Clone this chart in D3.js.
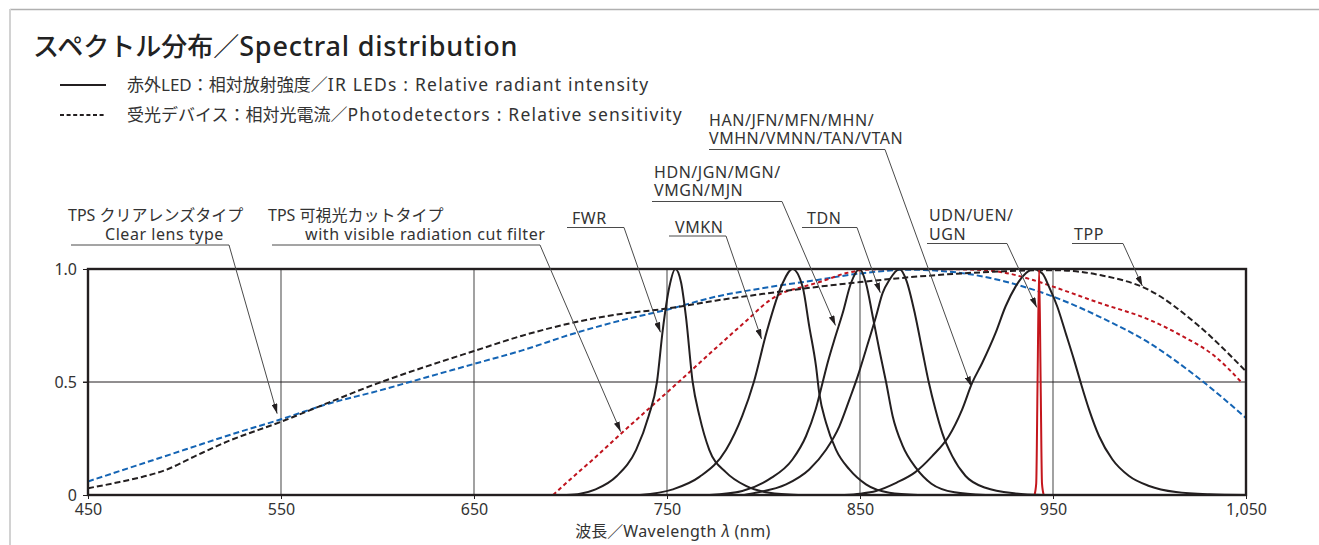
<!DOCTYPE html>
<html>
<head>
<meta charset="UTF-8">
<script src="https://d3js.org/d3.v7.min.js"></script>
<style>
  body { margin: 0; background: #fff; }
  text { font-family: "Noto Sans", "Noto Sans CJK JP", sans-serif; fill: #333; }
</style>
</head>
<body>
<svg id="canvas"></svg>
<script>
width = 1319;
height = 545;

// axes
xTicks = [450, 550, 650, 750, 850, 950, 1050];
xGrid = [550, 650, 750, 850, 950];
yTicks = [0, 0.5, 1];
yTickLabels = ["0", "0.5", "1.0"];

// IR LEDs : relative radiant intensity  [wavelength nm, value]
fwr = [[698,0],[705,0.006],[713,0.025],[724,0.084],[734,0.2],[740.5,0.35],[744.8,0.5],[747.8,0.73],[751.2,0.92],[754.3,1.0],[757.3,0.94],[759.8,0.79],[763.3,0.5],[766.8,0.35],[771.9,0.2],[780.6,0.1],[790.9,0.04],[803,0.01],[818,0]];
vmkn = [[736,0],[753,0.025],[766.8,0.08],[780.6,0.2],[789,0.35],[795,0.5],[801.6,0.72],[809.9,0.937],[815,1.0],[820.3,0.92],[823.7,0.746],[827.2,0.57],[828.9,0.45],[832.4,0.32],[837.6,0.2],[844.5,0.113],[853.1,0.047],[865.2,0.01],[880,0]];
hdn = [[772,0],[789,0.018],[803,0.07],[815,0.157],[822,0.26],[827,0.378],[830.7,0.5],[833.2,0.584],[837.2,0.7],[841,0.804],[845.3,0.937],[849.8,1.0],[853.1,0.937],[856.6,0.79],[860,0.643],[863.5,0.5],[866.9,0.35],[872,0.22],[879,0.12],[887,0.05],[899,0.012],[915,0]];
tdn = [[790,0],[796,0.01],[811.7,0.047],[823.7,0.113],[832.4,0.2],[839.3,0.304],[844.5,0.422],[848.8,0.525],[853.1,0.643],[858.3,0.79],[861.7,0.893],[865.2,0.951],[870.5,1.0],[874,0.95],[878.5,0.8],[882.2,0.643],[885.6,0.5],[889.1,0.378],[892.6,0.275],[897.8,0.172],[904.7,0.084],[915,0.032],[930.6,0.007],[945,0]];
han = [[842,0],[850,0.006],[858.3,0.018],[869,0.055],[878.5,0.1],[887.4,0.172],[896,0.26],[902.9,0.378],[908.1,0.496],[913.3,0.584],[920.2,0.716],[925.4,0.834],[930.6,0.922],[935.8,0.98],[939.5,1.0],[944.5,0.98],[947.9,0.922],[952.2,0.834],[956.6,0.716],[960.9,0.598],[964.4,0.496],[968.7,0.378],[973.9,0.26],[980.8,0.157],[989.4,0.084],[999.8,0.04],[1013.7,0.013],[1031,0.003],[1050,0]];
udn = [[940.4,0],[941.3,0.05],[942,0.5],[942.8,1.0],[943.6,0.5],[944.3,0.05],[945.2,0]];

// Photodetectors : relative sensitivity
tpsClear = [[450,0.06],[475,0.13],[500,0.2],[525,0.27],[550,0.335],[575,0.405],[600,0.46],[625,0.52],[650,0.58],[675,0.64],[700,0.71],[725,0.77],[750,0.82],[775,0.877],[800,0.916],[825,0.948],[850,0.98],[875,0.997],[900,0.985],[925,0.945],[950,0.878],[975,0.785],[1000,0.672],[1025,0.52],[1050,0.341]];
tpsCut = [[691,0],[700,0.07],[712,0.16],[726,0.27],[741,0.385],[756,0.5],[774,0.64],[791,0.77],[803,0.86],[810,0.895],[820,0.92],[830,0.945],[843,0.982],[855,0.998],[875,1.0],[905,0.998],[922,0.988],[939,0.953],[950,0.922],[974,0.85],[1000,0.775],[1017,0.703],[1034,0.613],[1047.5,0.5]];
tpp = [[450,0.03],[465,0.055],[478,0.08],[490,0.11],[505,0.17],[522,0.236],[550,0.324],[575,0.41],[600,0.494],[625,0.568],[650,0.637],[675,0.705],[700,0.76],[725,0.8],[750,0.825],[775,0.86],[800,0.89],[825,0.918],[850,0.942],[875,0.963],[900,0.979],[925,0.99],[950,0.995],[975,0.972],[1000,0.906],[1025,0.752],[1050,0.547]];

ledCurves = [fwr, vmkn, hdn, tdn, han];
detectors = [
  {data: tpsClear, color: "#1464b4", dash: "6,3"},
  {data: tpsCut,   color: "#c0141e", dash: "4,3"},
  {data: tpp,      color: "#231f20", dash: "6,3"}
];

// callout labels (text lines, text x, first baseline, leader y, leader start/end x, arrow target in data units)
notes = [
  {lines: ["TPS クリアレンズタイプ", "Clear lens type"], tx: [68, 105], ty: 221, ly: 245, x0: 71, x1: 229, at: [548, 0.36]},
  {lines: ["TPS 可視光カットタイプ", "with visible radiation cut filter"], tx: [268, 305], ty: 221, ly: 245, x0: 272, x1: 540, at: [726, 0.28]},
  {lines: ["FWR"], tx: [572], ty: 224, ly: 227.5, x0: 567, x1: 624, at: [746.6, 0.72]},
  {lines: ["VMKN"], tx: [675], ty: 232.5, ly: 236, x0: 669, x1: 726, at: [799, 0.69]},
  {lines: ["HDN/JGN/MGN/", "VMGN/MJN"], tx: [654, 654], ty: 177.5, ly: 201.5, x0: 652, x1: 782, at: [837.3, 0.75]},
  {lines: ["TDN"], tx: [807], ty: 224, ly: 227.5, x0: 802, x1: 857, at: [860.5, 0.895]},
  {lines: ["HAN/JFN/MFN/MHN/", "VMHN/VMNN/TAN/VTAN"], tx: [709, 709], ty: 125.5, ly: 149.5, x0: 709, x1: 885, at: [907.6, 0.48]},
  {lines: ["UDN/UEN/", "UGN"], tx: [929, 929], ty: 221, ly: 243.5, x0: 927, x1: 1007, at: [941.6, 0.83]},
  {lines: ["TPP"], tx: [1074], ty: 240, ly: 243.5, x0: 1072, x1: 1123, at: [996.3, 0.925]}
];

cjk = /[\u3000-\u9fff\uff00-\uffef]/;

svg = d3.select("#canvas").attr("width", width).attr("height", height);

// page frame
svg.append("line").attr("x1", 10).attr("x2", width).attr("y1", 9.5).attr("y2", 9.5)
  .attr("stroke", "#b0b0b0").attr("stroke-width", 1.5);
svg.append("line").attr("x1", 10).attr("x2", 10).attr("y1", 9).attr("y2", height)
  .attr("stroke", "#d2d2d2").attr("stroke-width", 2);

// title + legend
title = svg.append("text").attr("x", 33).attr("y", 56).attr("font-size", 26).attr("font-weight", 500)
  .style("fill", "#222");
title.append("tspan").text("スペクトル分布／");
title.append("tspan").attr("font-size", 27).attr("letter-spacing", 0.8).text("Spectral distribution");

function legendText(yy, jp, en) {
  var t = svg.append("text").attr("x", 127).attr("y", yy).attr("font-size", 17);
  t.append("tspan").text(jp);
  t.append("tspan").attr("font-size", 17.5).attr("letter-spacing", 1.2).text(en);
}

svg.append("line").attr("x1", 60).attr("x2", 106).attr("y1", 85).attr("y2", 85)
  .attr("stroke", "#231f20").attr("stroke-width", 2);
legendText(91, "赤外LED：相対放射強度／", "IR LEDs : Relative radiant intensity");
svg.append("line").attr("x1", 60).attr("x2", 106).attr("y1", 115).attr("y2", 115)
  .attr("stroke", "#231f20").attr("stroke-width", 2).attr("stroke-dasharray", "4,2.6");
legendText(121, "受光デバイス：相対光電流／", "Photodetectors : Relative sensitivity");

x = d3.scaleLinear().domain([450, 1050]).range([88, 1246]);
y = d3.scaleLinear().domain([0, 1]).range([495, 269]);

plot = svg.append("g");

// grid
plot.selectAll(".vgrid").data(xGrid).enter().append("line")
  .attr("x1", d => x(d)).attr("x2", d => x(d)).attr("y1", y(0)).attr("y2", y(1))
  .attr("stroke", "#7a7a7a").attr("stroke-width", 1.4);
plot.append("line").attr("x1", x(450) - 5).attr("x2", x(1050)).attr("y1", y(0.5)).attr("y2", y(0.5))
  .attr("stroke", "#231f20").attr("stroke-width", 1);

line = d3.line().x(d => x(d[0])).y(d => y(d[1])).curve(d3.curveMonotoneX);

plot.append("clipPath").attr("id", "clip").append("rect")
  .attr("x", x(450)).attr("y", y(1) - 2).attr("width", x(1050) - x(450)).attr("height", y(0) - y(1) + 2);
curves = plot.append("g").attr("clip-path", "url(#clip)");

curves.selectAll(".det").data(detectors).enter().append("path")
  .attr("d", d => line(d.data)).attr("fill", "none")
  .attr("stroke", d => d.color).attr("stroke-width", 2).attr("stroke-dasharray", d => d.dash);

curves.selectAll(".led").data(ledCurves).enter().append("path")
  .attr("d", d => line(d)).attr("fill", "none")
  .attr("stroke", "#231f20").attr("stroke-width", 2);

curves.append("path").attr("d", line(udn)).attr("fill", "none")
  .attr("stroke", "#c4161c").attr("stroke-width", 2);

// frame
plot.append("rect").attr("x", x(450)).attr("y", y(1)).attr("width", x(1050) - x(450)).attr("height", y(0) - y(1))
  .attr("fill", "none").attr("stroke", "#231f20").attr("stroke-width", 2.4);

// axes
xAxis = plot.append("g").attr("transform", "translate(0," + y(0) + ")")
  .call(d3.axisBottom(x).tickValues(xTicks).tickFormat(d3.format(",")).tickSize(4).tickPadding(5));
yAxis = plot.append("g").attr("transform", "translate(" + x(450) + ",0)")
  .call(d3.axisLeft(y).tickValues(yTicks).tickFormat((d, i) => yTickLabels[i]).tickSize(5).tickPadding(6));
[xAxis, yAxis].forEach(a => {
  a.select(".domain").remove();
  a.selectAll("line").attr("stroke", "#231f20").attr("stroke-width", 1);
  a.selectAll("text").attr("font-size", 16).attr("font-family", null).style("fill", "#333");
});

xt = svg.append("text").attr("x", 673).attr("y", 537).attr("text-anchor", "middle").attr("font-size", 16);
xt.append("tspan").text("波長／");
xt.append("tspan").attr("letter-spacing", 0.45).text("Wavelength ");
xt.append("tspan").attr("font-style", "italic").text("λ");
xt.append("tspan").attr("letter-spacing", 0.45).text(" (nm)");

// callouts
svg.append("defs").append("marker").attr("id", "arrow")
  .attr("viewBox", "0 0 10 6").attr("refX", 10).attr("refY", 3)
  .attr("markerWidth", 10).attr("markerHeight", 6).attr("markerUnits", "userSpaceOnUse")
  .attr("orient", "auto")
  .append("path").attr("d", "M0,0 L10,3 L0,6 Z").attr("fill", "#231f20");

notes.forEach(n => {
  var t = svg.append("text").attr("font-size", 16);
  n.lines.forEach((s, i) => {
    t.append("tspan").attr("x", n.tx[i]).attr("y", n.ty + i * 18.5)
      .attr("letter-spacing", cjk.test(s) ? 0 : 0.55).text(s);
  });
  svg.append("path")
    .attr("d", "M" + n.x0 + "," + n.ly + "H" + n.x1 + "L" + x(n.at[0]) + "," + y(n.at[1]))
    .attr("fill", "none").attr("stroke", "#4a4a4a").attr("stroke-width", 1)
    .attr("marker-end", "url(#arrow)");
});
</script>
</body>
</html>
